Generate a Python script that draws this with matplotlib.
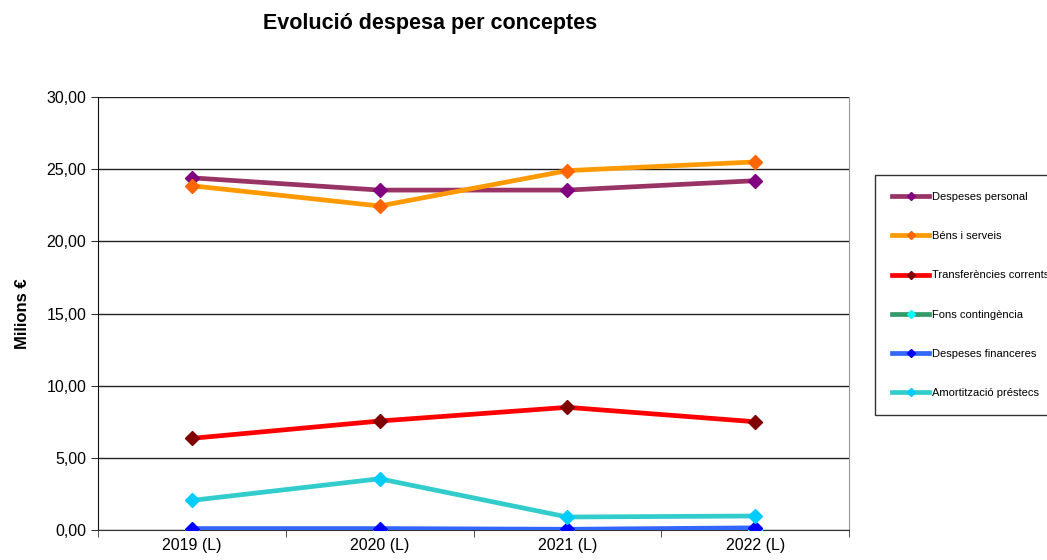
import numpy as np
import matplotlib.pyplot as plt
from matplotlib.ticker import FuncFormatter

plt.rcParams['font.family'] = ['Liberation Sans', 'DejaVu Sans']

years = ['2019 (L)', '2020 (L)', '2021 (L)', '2022 (L)']
personal = [24.40, 23.55, 23.55, 24.20]
bens = [23.85, 22.45, 24.90, 25.50]
transferencies = [6.35, 7.55, 8.50, 7.50]
fons = [0.0, 0.0, 0.0, 0.0]
financeres = [0.10, 0.10, 0.05, 0.15]
amortitzacio = [2.05, 3.55, 0.90, 0.97]

series = [
    ('Despeses personal', personal, '#993366', '#800080'),
    ('Béns i serveis', bens, '#FF9900', '#FF6600'),
    ('Transferències corrents', transferencies, '#FF0000', '#800000'),
    ('Fons contingència', fons, '#339966', '#00FFFF'),
    ('Despeses financeres', financeres, '#3366FF', '#0000FF'),
    ('Amortització préstecs', amortitzacio, '#33CCCC', '#00CCFF'),
]

fig = plt.figure(figsize=(10.47, 5.6), dpi=100)
ax = fig.add_axes([98 / 1047, 30 / 560, 751 / 1047, 433 / 560])

x = np.arange(len(years))
for name, vals, lc, mc in series:
    ax.plot(x, vals, color=lc, lw=3.4, marker='D', markersize=7,
            markerfacecolor=mc, markeredgecolor=mc, label=name, zorder=3)

ax.set_xlim(-0.5, 3.5)
ax.set_ylim(0, 30)
ax.set_yticks(np.arange(0, 31, 5))
ax.yaxis.set_major_formatter(FuncFormatter(lambda v, p: f'{v:.2f}'.replace('.', ',')))
ax.set_xticks(x)
ax.set_xticklabels(years)
ax.set_xticks(np.arange(-0.5, 3.6, 1), minor=True)
ax.tick_params(axis='x', which='major', length=0, labelsize=11.5, pad=6)
ax.tick_params(axis='x', which='minor', length=5, color='#333333')
ax.tick_params(axis='y', labelsize=11.5, length=5, direction='out', color='#333333')
ax.grid(axis='y', color='#222222', lw=1)
ax.set_axisbelow(True)
ax.spines['top'].set_visible(False)
ax.spines['right'].set_color('#999999')
ax.spines['left'].set_color('#111111')
ax.spines['bottom'].set_color('#333333')

ax.set_ylabel('Milions €', fontsize=12, fontweight='bold', labelpad=12)
fig.text(430 / 1047, 1 - 24 / 560, 'Evolució despesa per conceptes', ha='center', va='center',
         fontsize=15.5, fontweight='bold')

leg = ax.legend(loc='upper left', bbox_to_anchor=(875 / 1047, 1 - 175 / 560), bbox_transform=fig.transFigure,
                frameon=True, fancybox=False, edgecolor='black', fontsize=8, handlelength=3.3,
                labelspacing=2.62, borderpad=1.55, handletextpad=0.25, markerscale=0.6, borderaxespad=0)
leg.get_frame().set_linewidth(1)

fig.savefig('out.png', dpi=100)
